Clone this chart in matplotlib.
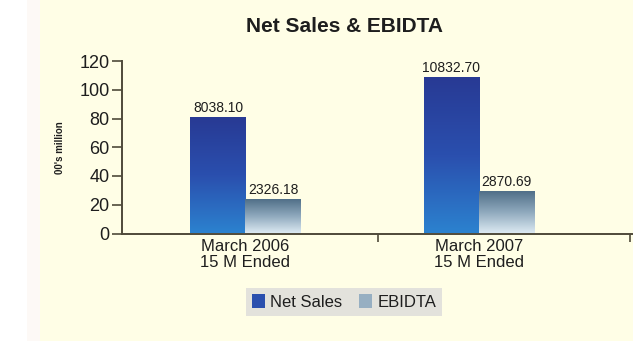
import numpy as np
import matplotlib
matplotlib.use("Agg")
import matplotlib.pyplot as plt
from matplotlib.colors import LinearSegmentedColormap
from matplotlib.patches import Patch, Rectangle

plt.rcParams['font.family'] = ['Liberation Sans', 'DejaVu Sans']

# Данные
periods = ["March 2006\n15 M Ended", "March 2007\n15 M Ended"]
net_sales = [8038.10, 10832.70]
ebidta = [2326.18, 2870.69]
series_names = ["Net Sales", "EBIDTA"]

# Цвета градиентов (низ -> верх)
net_cmap = LinearSegmentedColormap.from_list("net", ["#2c82cf", "#2a4fae", "#283a94"])
ebd_cmap = LinearSegmentedColormap.from_list("ebd", ["#dce9f2", "#8fa9bd", "#506f88"])

bg = "#fffee6"
axis_col = "#4f4a3a"
txt_col = "#1e1e1e"

fig = plt.figure(figsize=(6.33, 3.41), dpi=100, facecolor=bg)
fig.patches.append(Rectangle((0, 0), 27 / 633, 1, transform=fig.transFigure,
                             facecolor="white", edgecolor="none", zorder=-1))
fig.patches.append(Rectangle((27 / 633, 0), 13 / 633, 1, transform=fig.transFigure,
                             facecolor="#fdf9f6", edgecolor="none", zorder=-1))
ax = fig.add_axes([122 / 633, 1 - 233.5 / 341, 511 / 633, (233.5 - 61) / 341])
ax.set_facecolor(bg)

x = np.arange(len(periods))
w = 0.236
grad = np.linspace(0, 1, 256).reshape(-1, 1)


def gradient_bars(xs, vals, cmap):
    heights = [v / 100 for v in vals]
    bars = ax.bar(xs, heights, w, color="none", edgecolor="none")
    for b in bars:
        x0, y0 = b.get_x(), b.get_y()
        ax.imshow(grad, cmap=cmap, origin="lower", aspect="auto", zorder=2,
                  extent=[x0, x0 + b.get_width(), y0, y0 + b.get_height()])
    for b, v in zip(bars, vals):
        ax.text(b.get_x() + b.get_width() / 2, b.get_height() + 2, f"{v:.2f}",
                ha="center", va="bottom", fontsize=10, color=txt_col,
                family=['Liberation Sans Narrow', 'Liberation Sans'])
    return bars


gradient_bars(x - w / 2, net_sales, net_cmap)
gradient_bars(x + w / 2, ebidta, ebd_cmap)

ax.set_xlim(-0.529, 1.66)
ax.set_ylim(0, 120)
ax.set_yticks(range(0, 121, 20))
ax.set_xticks(x)
ax.set_xticklabels(periods, fontsize=12, color=txt_col, linespacing=1.05)
ax.set_xticks([0.567, 1.647], minor=True)
ax.tick_params(axis="x", which="major", length=0, pad=4)
ax.tick_params(axis="x", which="minor", length=6, width=1.2, direction="out", color=axis_col)
ax.tick_params(axis="y", length=7, width=1.2, color=axis_col, labelsize=13, labelcolor=txt_col, pad=2)

for s in ["top", "right"]:
    ax.spines[s].set_visible(False)
for s in ["left", "bottom"]:
    ax.spines[s].set_color(axis_col)
    ax.spines[s].set_linewidth(1.4)

ax.set_ylabel("00's million", fontsize=7, fontweight="bold", color=txt_col, labelpad=10)

fig.text(345 / 633, 1 - 27 / 341, "Net Sales & EBIDTA", ha="center", va="center",
         fontsize=15, fontweight="bold", color=txt_col)

handles = [Patch(facecolor=net_cmap(0.5), label=series_names[0]),
           Patch(facecolor=ebd_cmap(0.45), label=series_names[1])]
leg = fig.legend(handles=handles, loc="center", bbox_to_anchor=(344 / 633, 1 - 302 / 341),
                 ncol=2, fontsize=12, frameon=True, fancybox=False, handlelength=0.8,
                 handleheight=0.9, handletextpad=0.3, columnspacing=1.0,
                 borderpad=0.35, labelcolor=txt_col)
leg.get_frame().set_facecolor("#dcdcda")
leg.get_frame().set_edgecolor("none")

fig.savefig("out.png", dpi=100, facecolor=bg)
